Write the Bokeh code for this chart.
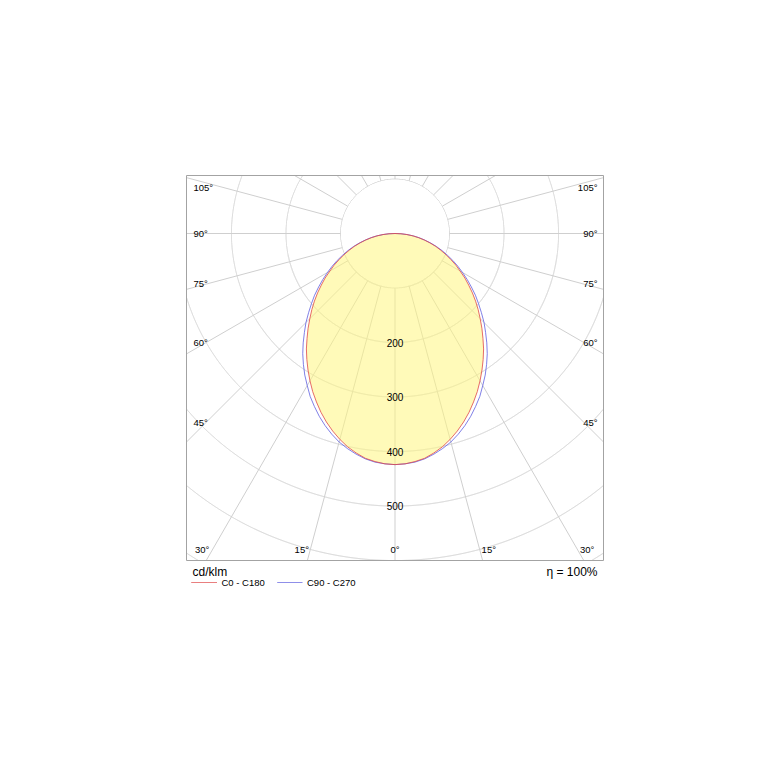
import numpy as np
from bokeh.plotting import figure
from bokeh.models import Range1d
from bokeh.embed import file_html
from bokeh.resources import INLINE
from bokeh.core.properties import value

# ---------------- data (cd/klm vs gamma angle from nadir) ----------------
gamma_deg = [0, 2.5, 5, 7.5, 10, 12.5, 15, 17.5, 20, 22.5, 25, 27.5, 30, 32.5, 35, 37.5,
             40, 42.5, 45, 47.5, 50, 52.5, 55, 57.5, 60, 62.5, 65, 67.5, 70, 72.5, 75,
             77.5, 80, 82.5, 85, 87.5, 90]
c0_c180 = [424, 423, 420, 416, 409, 401, 391, 380, 368, 355, 341, 327, 312, 297, 282, 267,
           251, 236, 221, 207, 193, 179, 165, 152, 138, 126, 113, 101, 89, 78, 66,
           55, 44, 33, 22, 11, 0]
c90_c270 = [424, 423, 421, 417, 411, 404, 396, 386, 375, 363, 350, 337, 322, 308, 293, 278,
            262, 246, 231, 215, 200, 186, 171, 157, 143, 130, 117, 104, 92, 80, 68,
            56, 45, 34, 22, 11, 0]
series_names = ["C0 - C180", "C90 - C270"]

ring_values = [100, 200, 300, 400, 500, 600, 700, 800]
ring_labels = ["200", "300", "400", "500"]
ring_label_values = [200, 300, 400, 500]
spoke_step_deg = 15
side_angle_labels = ["105°", "90°", "75°", "60°", "45°"]
bottom_angle_labels = ["30°", "15°", "0°", "15°", "30°"]
unit_label = "cd/klm"
efficiency_label = "η = 100%"

# ---------------- styling / layout ----------------
FONT = "Liberation Sans"
GRID = "#cfcfcf"
RED = "#e04848"
BLUE = "#6060e0"
TXT = "#000000"

W, H = 760, 600          # canvas (page pixels, origin at top-left)
CX, CY = 394.5, 233.0    # diagram origin in page pixels
S = 0.5451               # pixels per cd/klm
FL, FR, FT, FB = 186, 603, 175, 560   # diagram frame in page pixels


def dx(xi):
    return (xi - CX) / S


def dy(yi):
    return (CY - yi) / S


X0, X1, Y0, Y1 = dx(FL), dx(FR), dy(FB), dy(FT)

p = figure(width=W, height=H, min_border=0,
           x_range=Range1d(dx(0), dx(W)), y_range=Range1d(dy(H), dy(0)),
           x_axis_type=None, y_axis_type=None,
           output_backend="svg", toolbar_location=None)
p.outline_line_color = None
p.background_fill_color = "white"
p.border_fill_color = "white"

# grid rings, clipped to the frame
t = np.linspace(0, 2 * np.pi, 6001)
for r in ring_values:
    x = r * np.cos(t)
    y = r * np.sin(t)
    out = (x < X0) | (x > X1) | (y < Y0) | (y > Y1)
    x[out] = np.nan
    y[out] = np.nan
    p.line(x, y, line_color=GRID, line_width=1)

# spokes from the 100 ring outward to the frame
x0s, y0s, x1s, y1s = [], [], [], []
for a in np.radians(np.arange(0, 360, spoke_step_deg)):
    ddx, ddy = np.sin(a), -np.cos(a)
    ts = []
    if ddx > 1e-9:
        ts.append(X1 / ddx)
    if ddx < -1e-9:
        ts.append(X0 / ddx)
    if ddy > 1e-9:
        ts.append(Y1 / ddy)
    if ddy < -1e-9:
        ts.append(Y0 / ddy)
    tm = min(ts)
    r_in = ring_values[0]
    if tm > r_in:
        x0s.append(r_in * ddx); y0s.append(r_in * ddy)
        x1s.append(tm * ddx); y1s.append(tm * ddy)
p.segment(x0=x0s, y0=y0s, x1=x1s, y1=y1s, line_color=GRID, line_width=1)


def curve(vals):
    g = np.radians(np.array(gamma_deg, dtype=float))
    v = np.array(vals, dtype=float)
    gg = np.concatenate([-g[::-1], g[1:]])
    vv = np.concatenate([v[::-1], v[1:]])
    return list(vv * np.sin(gg)), list(-vv * np.cos(gg))


rx, ry = curve(c0_c180)
bx, by = curve(c90_c270)
p.patch(rx, ry, fill_color="#fff680", fill_alpha=0.55, line_color=None)
p.line(bx, by, line_color=BLUE, line_width=1, line_alpha=0.8)
p.line(rx, ry, line_color=RED, line_width=1, line_alpha=0.8)

# frame
p.quad(left=[X0], right=[X1], bottom=[Y0], top=[Y1], fill_color=None,
       line_color="#a3a3a3", line_width=1)

# ring value labels along nadir
p.text(x=[0] * len(ring_labels), y=[-v for v in ring_label_values], text=ring_labels,
       text_font=value(FONT), text_font_size="10px", text_color=TXT,
       text_align="center", text_baseline="middle")

# side angle labels
side_y_px = [187.3, 232.7, 283.3, 341.7, 421.7]
p.text(x=[dx(193)] * 5, y=[dy(v) for v in side_y_px], text=side_angle_labels,
       text_font=value(FONT), text_font_size="9.5px", text_color=TXT,
       text_align="left", text_baseline="middle")
p.text(x=[dx(597)] * 5, y=[dy(v) for v in side_y_px], text=side_angle_labels,
       text_font=value(FONT), text_font_size="9.5px", text_color=TXT,
       text_align="right", text_baseline="middle")

bottom_x_px = [201.7, 301.3, 394.5, 488.3, 586.7]
p.text(x=[dx(v) for v in bottom_x_px], y=[dy(549.3)] * 5, text=bottom_angle_labels,
       text_font=value(FONT), text_font_size="9.5px", text_color=TXT,
       text_align="center", text_baseline="middle")

# texts and legend below the frame
p.text(x=[dx(192)], y=[dy(571)], text=[unit_label], text_font=value(FONT),
       text_font_size="12px", text_color=TXT, text_align="left", text_baseline="middle")
p.text(x=[dx(597)], y=[dy(571)], text=[efficiency_label], text_font=value(FONT),
       text_font_size="12px", text_color=TXT, text_align="right", text_baseline="middle")

for (x_a, x_b, x_t), name, col in zip([(190.7, 216.5, 221), (276.7, 302, 306.5)],
                                      series_names, [RED, BLUE]):
    p.line([dx(x_a), dx(x_b)], [dy(582), dy(582)], line_color=col, line_width=1,
           line_alpha=0.7)
    p.text(x=[dx(x_t)], y=[dy(582)], text=[name], text_font=value(FONT),
           text_font_size="9.5px", text_color=TXT, text_align="left", text_baseline="middle")

open("out.html", "w").write(file_html(p, INLINE))
